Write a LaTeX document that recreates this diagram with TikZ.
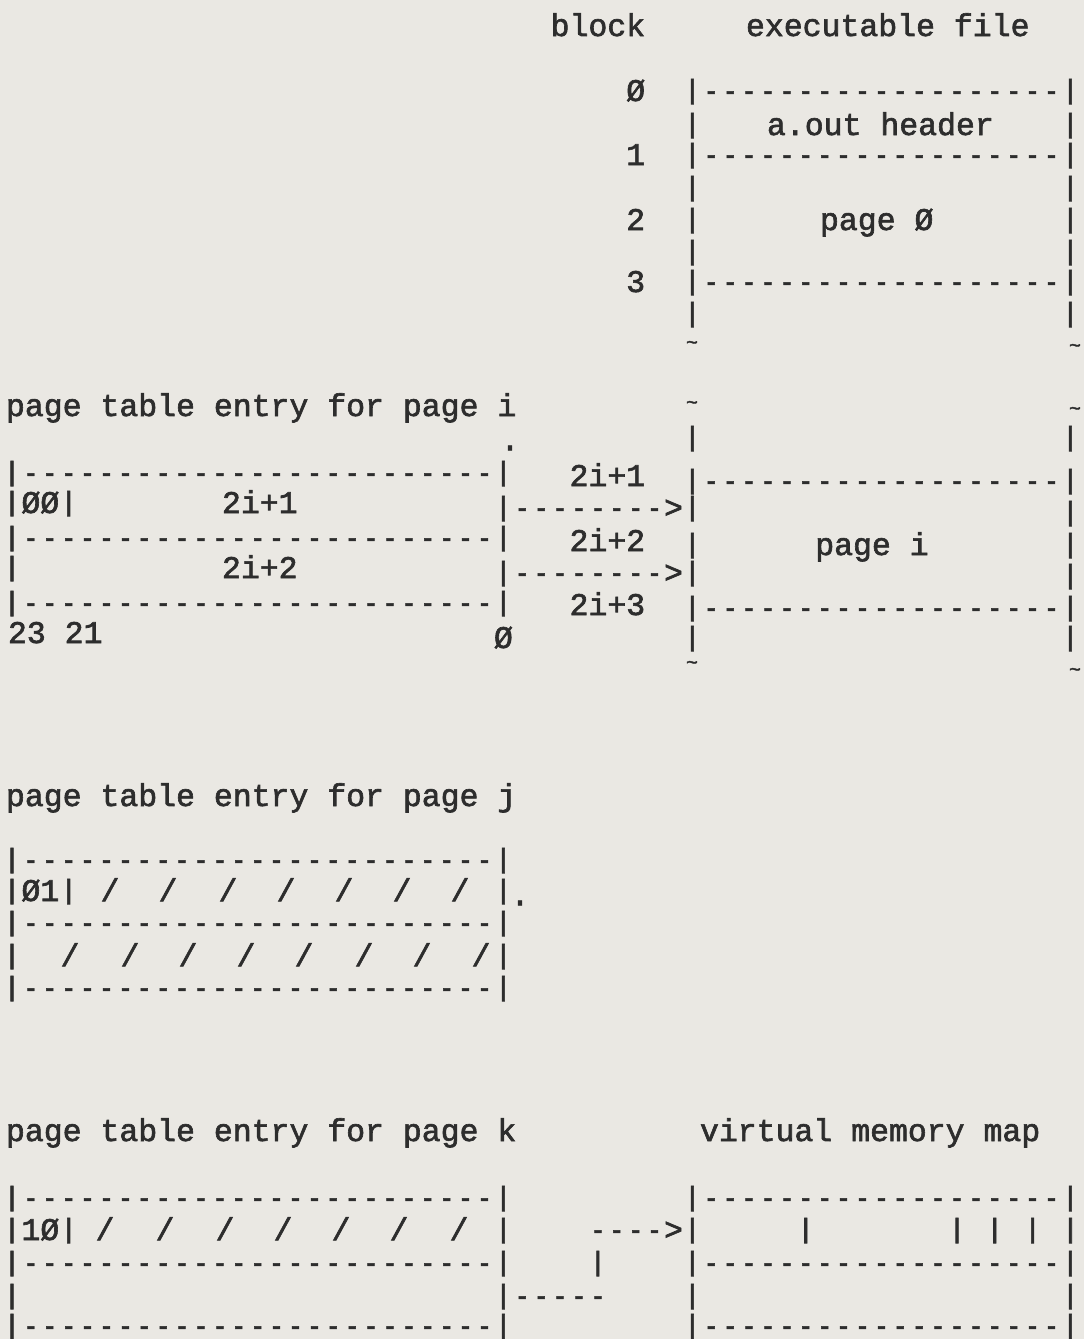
\documentclass[tikz,border=0pt]{standalone}
\usepackage{fontspec}
\setmonofont[FakeBold=2]{Liberation Mono}
\definecolor{paper}{RGB}{234,232,227}
\definecolor{ink}{RGB}{45,45,45}
\newcommand\vb{\makebox[0.6em]{\raisebox{1.2pt}{\scalebox{1}[0.86]{|}}}}
\newcommand\dd{\makebox[0.6em]{\scalebox{0.78}[1]{-}}}
\newcommand\dfive{\dd\dd\dd\dd\dd}
\newcommand\BX{\vb\dfive\dfive\dfive\dd\dd\dd\dd\vb}
\newcommand\TB{\vb\dfive\dfive\dfive\dfive\dfive\vb}
\newcommand\T[4]{\node[tw] (#1) at (#2,{#3+8}) {#4};}
\newcommand\C[4]{\node[tw] (#1) at ({2.55+(#2)*18.9},{#3+8}) {#4};}
\newcommand\Td[3]{\node[tld] (#1) at (#2,#3) {\textasciitilde};}
\begin{document}
\begin{tikzpicture}[x=0.5pt,y=-0.5pt,
  tw/.style={anchor=base west,inner sep=0pt,outer sep=0pt,text=ink,
    font=\ttfamily\fontsize{15.75pt}{15.75pt}\selectfont},
  tld/.style={anchor=center,inner sep=0pt,outer sep=0pt,text=ink,
    font=\ttfamily\fontsize{10pt}{10pt}\selectfont},
  sl/.style={tw,anchor=base},
  dt/.style={tw,anchor=center}]
\fill[paper] (0,0) rectangle (1084,1339);
\useasboundingbox (0,0) rectangle (1084,1339);
% ---- executable file
\C{blk}{29}{28}{block}
\T{exe}{746}{28}{executable file}
\C{b0}{33}{93}{Ø}
\C{f0}{36}{93}{\BX}
\C{f1l}{36}{127}{\vb} \T{hdr}{767}{127}{a.out header} \C{f1r}{56}{127}{\vb}
\C{b1}{33}{157}{1} \C{f2}{36}{157}{\BX}
\C{f3l}{36}{190}{\vb} \C{f3r}{56}{190}{\vb}
\C{b2}{33}{222}{2} \C{f4l}{36}{222}{\vb} \T{pg0}{820}{222}{page Ø} \C{f4r}{56}{222}{\vb}
\C{f5l}{36}{254}{\vb} \C{f5r}{56}{254}{\vb}
\C{b3}{33}{284}{3} \C{f6}{36}{284}{\BX}
\C{f7l}{36}{316}{\vb} \C{f7r}{56}{316}{\vb}
\Td{ta1}{692}{345} \Td{ta2}{1075}{348}
% ---- page i
\T{pti}{6}{408}{page table entry for page i}
\Td{tb1}{692}{405} \Td{tb2}{1075}{411}
\node[dt] (dot1) at (510,448) {.};
\C{g0l}{36}{440}{\vb} \C{g0r}{56}{440}{\vb}
\C{ti0}{0}{475}{\TB}
\C{la1}{30}{478}{2i+1}
\C{g1}{36}{483}{\BX}
\C{ti1}{0}{505}{\vb ØØ\vb} \T{v1}{222}{505}{2i+1}
\C{ar1}{26}{510}{\vb\dd\dd\dd\dd\dd\dd\dd\dd>\vb}
\C{g2r}{56}{515}{\vb}
\C{ti2}{0}{540}{\TB}
\C{la2}{30}{543}{2i+2}
\C{g3l}{36}{547}{\vb} \C{pgi}{43}{547}{page i} \C{g3r}{56}{547}{\vb}
\C{ti3}{0}{570}{\vb} \T{v2}{222}{570}{2i+2}
\C{ar2}{26}{575}{\vb\dd\dd\dd\dd\dd\dd\dd\dd>\vb}
\C{g4r}{56}{578}{\vb}
\C{ti4}{0}{605}{\TB}
\C{la3}{30}{607}{2i+3}
\C{g5}{36}{610}{\BX}
\T{bits}{8}{635}{23 21}
\C{z0}{26}{640}{Ø}
\C{g6l}{36}{640}{\vb} \C{g6r}{56}{640}{\vb}
\Td{tc1}{692}{665} \Td{tc2}{1075}{672}
% ---- page j
\T{ptj}{6}{798}{page table entry for page j}
\C{tj0}{0}{862}{\TB}
\C{tj1}{0}{893}{\vb Ø1\vb} \C{tj1r}{26}{893}{\vb}
\foreach \x [count=\i] in {110,168,228,286,344,402,460}
  {\node[sl] (js\i) at (\x,901) {/};}
\node[dt] (dot2) at (520,903) {.};
\C{tj2}{0}{925}{\TB}
\C{tj3}{0}{958}{\vb} \C{tj3r}{26}{958}{\vb}
\foreach \x [count=\i] in {70,130,188,246,304,364,422,481}
  {\node[sl] (jt\i) at (\x,966) {/};}
\C{tj4}{0}{990}{\TB}
% ---- page k
\T{ptk}{6}{1133}{page table entry for page k}
\T{vmm}{700}{1133}{virtual memory map}
\C{tk0}{0}{1200}{\TB} \C{m0}{36}{1200}{\BX}
\C{tk1}{0}{1232}{\vb 1Ø\vb} \C{tk1r}{26}{1232}{\vb}
\foreach \x [count=\i] in {105,165,225,283,341,399,459}
  {\node[sl] (ks\i) at (\x,1240) {/};}
\C{ak1}{31}{1232}{\dd\dd\dd\dd>}
\C{m1}{36}{1232}{\vb~~~~~\vb~~~~~~~\vb~\vb~\vb~\vb}
\C{tk2}{0}{1265}{\TB} \C{ak2}{31}{1265}{\vb} \C{m2}{36}{1265}{\BX}
\C{tk3}{0}{1298}{\vb} \C{ak3}{26}{1298}{\vb\dfive} \C{m3l}{36}{1298}{\vb} \C{m3r}{56}{1298}{\vb}
\C{tk4}{0}{1328}{\TB} \C{m4}{36}{1328}{\BX}
\end{tikzpicture}
\end{document}
